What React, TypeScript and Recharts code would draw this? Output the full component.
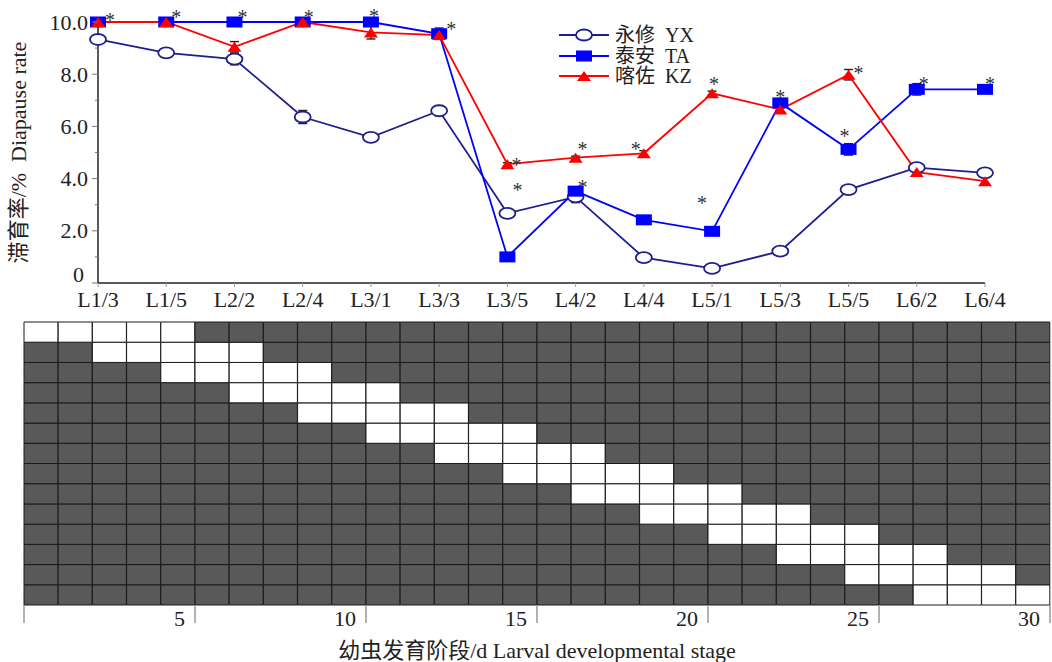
import {
    LineChart,
    Line,
    XAxis,
    YAxis,
    Legend,
    ErrorBar,
    ReferenceDot,
    BarChart,
    Bar,
    Cell,
} from "recharts";

const FONT = "'Liberation Serif', 'Noto Sans CJK SC', serif";
const INK = "#222";

// larval stage / days after onset of short-day treatment
const stages = ["L1/3", "L1/5", "L2/2", "L2/4", "L3/1", "L3/3", "L3/5", "L4/2", "L4/4", "L5/1", "L5/3", "L5/5", "L6/2", "L6/4"];

// diapause rate per population
const yxRate = [9.33, 8.82, 8.58, 6.36, 5.58, 6.6, 2.67, 3.3, 0.97, 0.56, 1.22, 3.58, 4.42, 4.22];
const taRate = [10, 10, 10, 10, 10, 9.55, 1.0, 3.52, 2.42, 1.98, 6.9, 5.12, 7.42, 7.42];
const kzRate = [10, 10, 9.05, 10, 9.6, 9.5, 4.55, 4.8, 4.97, 7.27, 6.65, 7.98, 4.25, 3.9];

// standard errors (null = none drawn)
const yxErr = [null, null, 0.22, 0.25, null, 0.2, null, 0.22, null, null, null, null, null, null];
const taErr = [null, null, null, null, null, 0.22, null, null, null, null, null, 0.22, 0.22, null];
const kzErr = [null, null, 0.2, null, 0.25, null, 0.06, 0.06, 0.1, 0.08, null, 0.2, null, 0.15];

// significance marks: stage + height where the asterisk sits
const starStage = ["L1/3", "L1/5", "L2/2", "L2/4", "L3/1", "L3/3", "L3/5", "L3/5", "L4/2", "L4/2", "L4/4", "L5/1", "L5/1", "L5/3", "L5/5", "L5/5", "L6/2", "L6/4"];
const starValue = [10.14, 10.27, 10.27, 10.27, 10.3, 9.82, 4.59, 3.63, 5.22, 3.75, 5.22, 7.69, 3.14, 7.2, 8.13, 5.71, 7.71, 7.71];
// horizontal nudge (px) so the mark clears the symbol
const starDx = [12, 10, 8, 6, 3, 12, 9, 10, 7, 7, -8, 2, -10, 0, 10, -4, 7, 5];

const yTicks = [0, 1, 2, 3, 4, 5, 6, 7, 8, 9, 10];

// bottom schedule grid: 30 days x 14 treatments, each lit for 5 days
const days = [1, 2, 3, 4, 5, 6, 7, 8, 9, 10, 11, 12, 13, 14, 15, 16, 17, 18, 19, 20, 21, 22, 23, 24, 25, 26, 27, 28, 29, 30];
const lightStart = [1, 3, 5, 7, 9, 11, 13, 15, 17, 19, 21, 23, 25, 27];
const lightSpan = 5;
const dayLabelEvery = 5;

const series = [
    { key: "yx", err: "yxErr", cn: "永修", en: "YX", color: "#1e1e8c", marker: "circle" },
    { key: "ta", err: "taErr", cn: "泰安", en: "TA", color: "#0000ff", marker: "square" },
    { key: "kz", err: "kzErr", cn: "喀佐", en: "KZ", color: "#ff0000", marker: "triangle" },
];

const lineData = stages.map((stage, i) => ({
    stage,
    yx: yxRate[i],
    yxErr: yxErr[i],
    ta: taRate[i],
    taErr: taErr[i],
    kz: kzRate[i],
    kzErr: kzErr[i],
}));

const gridData = days.map((day) => {
    const row: Record<string, number> = { day };
    lightStart.forEach((_, r) => {
        row[`r${r}`] = 1;
    });
    return row;
});

const isLight = (r: number, day: number) =>
    day >= lightStart[r] && day < lightStart[r] + lightSpan;

// grid chart geometry
const GRID_W = 1052;
const GRID_LEFT = 24;
const GRID_RIGHT = 2;
const cellW = (GRID_W - GRID_LEFT - GRID_RIGHT) / days.length;

const Marker = ({ type, color, cx, cy }: { type: string; color: string; cx: number; cy: number }) => {
    if (type === "circle")
        return <ellipse cx={cx} cy={cy} rx={8} ry={5.5} fill="#fff" stroke={color} strokeWidth={1.8} />;
    if (type === "square")
        return <rect x={cx - 8} y={cy - 5.5} width={16} height={11} fill={color} />;
    return (
        <polygon
            points={`${cx - 7},${cy + 5} ${cx + 7},${cy + 5} ${cx},${cy - 5}`}
            fill={color}
        />
    );
};

const makeDot = (type: string, color: string) => (props: any) => {
    const { cx, cy, index } = props;
    if (cx == null || cy == null) return <g key={index} />;
    return (
        <g key={index}>
            <Marker type={type} color={color} cx={cx} cy={cy} />
        </g>
    );
};

const YTick = (props: any) => {
    const { x, y, payload } = props;
    const v = payload.value as number;
    const major = v % 2 === 0;
    return (
        <g>
            <line x1={x - (major ? 6 : 3)} x2={x} y1={y} y2={y} stroke="#777" />
            {major && (
                <text
                    x={v === 0 ? x - 14 : x - 10}
                    y={v === 0 ? y - 9 : y}
                    textAnchor="end"
                    dominantBaseline="central"
                    fontFamily={FONT}
                    fontSize={22}
                    fill={INK}
                >
                    {v === 0 ? "0" : v.toFixed(1)}
                </text>
            )}
        </g>
    );
};

const XTick = (props: any) => {
    const { x, y, payload } = props;
    return (
        <g>
            <line x1={x} x2={x} y1={y} y2={y + 4} stroke="#999" />
            <text x={x} y={y + 16} textAnchor="middle" dominantBaseline="central" fontFamily={FONT} fontSize={22} fill={INK}>
                {payload.value}
            </text>
        </g>
    );
};

const DayTick = (props: any) => {
    const { x, y, payload } = props;
    const day = payload.value as number;
    const edge = x + cellW / 2;
    return (
        <g>
            {day === 1 && (
                <line x1={x - cellW / 2} x2={x - cellW / 2} y1={y} y2={y + 18} stroke="#999" strokeWidth={1.5} />
            )}
            {day % dayLabelEvery === 0 && (
                <g>
                    <line x1={edge} x2={edge} y1={y} y2={y + 18} stroke="#999" strokeWidth={1.5} />
                    <text x={edge - 10} y={y + 13} textAnchor="end" dominantBaseline="central" fontFamily={FONT} fontSize={22} fill={INK}>
                        {day}
                    </text>
                </g>
            )}
        </g>
    );
};

const YLabel = (props: any) => {
    const { x, y, height } = props.viewBox;
    const cx = x + 18;
    const cy = y + height / 2;
    return (
        <text
            x={cx}
            y={cy}
            transform={`rotate(-90 ${cx} ${cy})`}
            textAnchor="middle"
            dominantBaseline="central"
            fontFamily={FONT}
            fontSize={22}
            fill={INK}
            style={{ whiteSpace: "pre" }}
        >
            滞育率/%  Diapause rate
        </text>
    );
};

const DayLabel = (props: any) => {
    const { x, y, width } = props.viewBox;
    return (
        <text
            x={x + width / 2}
            y={y + 45}
            textAnchor="middle"
            dominantBaseline="central"
            fontFamily={FONT}
            fontSize={22}
            fill={INK}
        >
            幼虫发育阶段/d Larval developmental stage
        </text>
    );
};

const LegendBox = () => (
    <div style={{ fontFamily: FONT, fontSize: 20, color: INK }}>
        {series.map((s) => (
            <div key={s.key} style={{ display: "flex", alignItems: "center", height: 20.5 }}>
                <svg width={50} height={14}>
                    <line x1={0} y1={7} x2={50} y2={7} stroke={s.color} strokeWidth={1.8} />
                    <Marker type={s.marker} color={s.color} cx={25} cy={7} />
                </svg>
                <span style={{ marginLeft: 6, lineHeight: "20px", whiteSpace: "pre" }}>
                    {s.cn}  {s.en}
                </span>
            </div>
        ))}
    </div>
);

const Star = (dx: number) => (props: any) => {
    const { cx, cy } = props;
    return (
        <text x={cx + dx} y={cy + 9} textAnchor="middle" fontFamily={FONT} fontSize={20} fill="#333">
            *
        </text>
    );
};

export default function App() {
    return (
        <div style={{ position: "absolute", left: 0, top: 0, width: 1052, height: 662, background: "#fff" }}>
            <div style={{ position: "absolute", left: 0, top: 0 }}>
                <LineChart
                    width={1052}
                    height={320}
                    data={lineData}
                    margin={{ top: 22, right: 67, left: 0, bottom: 7 }}
                >
                    <XAxis
                        dataKey="stage"
                        height={30}
                        tick={<XTick />}
                        tickSize={0}
                        tickMargin={0}
                        tickLine={false}
                        interval={0}
                        axisLine={{ stroke: INK, strokeWidth: 1.5 }}
                    />
                    <YAxis
                        width={98}
                        domain={[0, 10]}
                        ticks={yTicks}
                        interval={0}
                        tick={<YTick />}
                        tickSize={0}
                        tickMargin={0}
                        tickLine={false}
                        axisLine={{ stroke: INK, strokeWidth: 1.5 }}
                        label={{ content: <YLabel /> }}
                    />
                    <Legend
                        layout="vertical"
                        align="center"
                        verticalAlign="middle"
                        content={<LegendBox />}
                        wrapperStyle={{ left: 559, top: 25, width: 170 }}
                    />
                    {series.map((s) => (
                        <Line
                            key={s.key}
                            type="linear"
                            dataKey={s.key}
                            stroke={s.color}
                            strokeWidth={1.8}
                            dot={makeDot(s.marker, s.color)}
                            activeDot={false}
                            isAnimationActive={false}
                        >
                            <ErrorBar dataKey={s.err} width={4.5} stroke={INK} strokeWidth={1.4} direction="y" />
                        </Line>
                    ))}
                    {starStage.map((stage, i) => (
                        <ReferenceDot
                            key={`star-${i}`}
                            x={stage}
                            y={starValue[i]}
                            r={0}
                            ifOverflow="visible"
                            shape={Star(starDx[i])}
                        />
                    ))}
                </LineChart>
            </div>
            <div style={{ position: "absolute", left: 0, top: 300 }}>
                <BarChart
                    width={GRID_W}
                    height={362}
                    data={gridData}
                    margin={{ top: 22, right: GRID_RIGHT, left: GRID_LEFT, bottom: 0 }}
                    barCategoryGap={0}
                >
                    <XAxis
                        dataKey="day"
                        interval={0}
                        height={57}
                        tick={<DayTick />}
                        tickSize={0}
                        tickMargin={0}
                        tickLine={false}
                        axisLine={false}
                        label={{ content: <DayLabel /> }}
                    />
                    <YAxis hide domain={[0, 14]} />
                    {lightStart
                        .map((_, r) => r)
                        .reverse()
                        .map((r) => (
                            <Bar
                                key={r}
                                dataKey={`r${r}`}
                                stackId="grid"
                                stroke="#1a1a1a"
                                strokeWidth={1}
                                isAnimationActive={false}
                            >
                                {gridData.map((d) => (
                                    <Cell key={d.day} fill={isLight(r, d.day) ? "#ffffff" : "#595959"} />
                                ))}
                            </Bar>
                        ))}
                </BarChart>
            </div>
        </div>
    );
}
